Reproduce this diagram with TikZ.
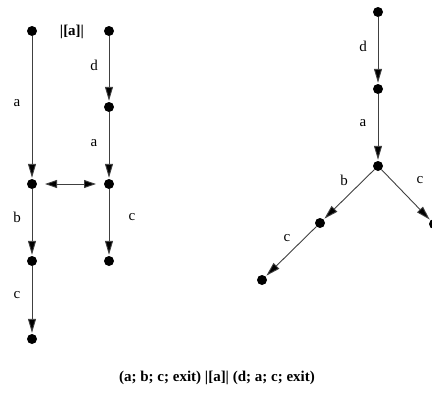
\documentclass[tikz,border=0pt]{standalone}
\usepackage{fontspec}
\setmainfont{Liberation Serif}
\usetikzlibrary{arrows.meta}
\begin{document}
\begin{tikzpicture}[x=1pt,y=-1pt,
  dot/.style={circle,fill=black,inner sep=0pt,minimum size=10pt},
  edge/.style={draw=black!75,line width=0.9pt,-{Triangle[length=14pt,width=8pt,fill=black]},shorten >=1pt},
  lbl/.style={font=\fontsize{15}{17}\selectfont,inner sep=0pt}]
\clip (0,0) rectangle (432,402);
% left process
\node[dot] (l1) at (32,31) {};
\node[dot] (l2) at (32,184) {};
\node[dot] (l3) at (32,261) {};
\node[dot] (l4) at (32,339) {};
% right process
\node[dot] (r1) at (109,31) {};
\node[dot] (r2) at (109,107) {};
\node[dot] (r3) at (109,184) {};
\node[dot] (r4) at (109,261) {};
\draw[edge] (l1) -- (l2);
\draw[edge] (l2) -- (l3);
\draw[edge] (l3) -- (l4);
\draw[edge] (r1) -- (r2);
\draw[edge] (r2) -- (r3);
\draw[edge] (r3) -- (r4);
\coordinate (s1) at (45,184);
\coordinate (s2) at (96,184);
\draw[draw=black!75,line width=0.9pt,{Triangle[length=12pt,width=8pt,fill=black]}-{Triangle[length=12pt,width=8pt,fill=black]}] (s1) -- (s2);
\node[lbl,font=\fontsize{15}{17}\selectfont\bfseries] (sync) at (72,32) {|[a]|};
\node[lbl] (la) at (17,103) {a};
\node[lbl] (lb) at (17,217) {b};
\node[lbl] (lc) at (17,295) {c};
\node[lbl] (rd) at (94,65) {d};
\node[lbl] (ra) at (94,143) {a};
\node[lbl] (rc) at (132,217) {c};
% composed tree
\node[dot] (t1) at (378,12) {};
\node[dot] (t2) at (378,89) {};
\node[dot] (t3) at (378,166) {};
\node[dot] (t4) at (320,223) {};
\node[dot] (t5) at (262,280) {};
\node[dot] (t6) at (434,224) {};
\draw[edge] (t1) -- (t2);
\draw[edge] (t2) -- (t3);
\draw[edge] (t3) -- (t4);
\draw[edge] (t4) -- (t5);
\draw[edge] (t3) -- (t6);
\node[lbl] (td) at (363,46) {d};
\node[lbl] (ta) at (363,123) {a};
\node[lbl] (tb) at (344,180) {b};
\node[lbl] (tc) at (420,180) {c};
\node[lbl] (tc2) at (287,238) {c};
% caption
\node[lbl,font=\fontsize{15}{17}\selectfont\bfseries] (cap) at (217,378) {(a; b; c; exit) |[a]| (d; a; c; exit)};
\end{tikzpicture}
\end{document}
